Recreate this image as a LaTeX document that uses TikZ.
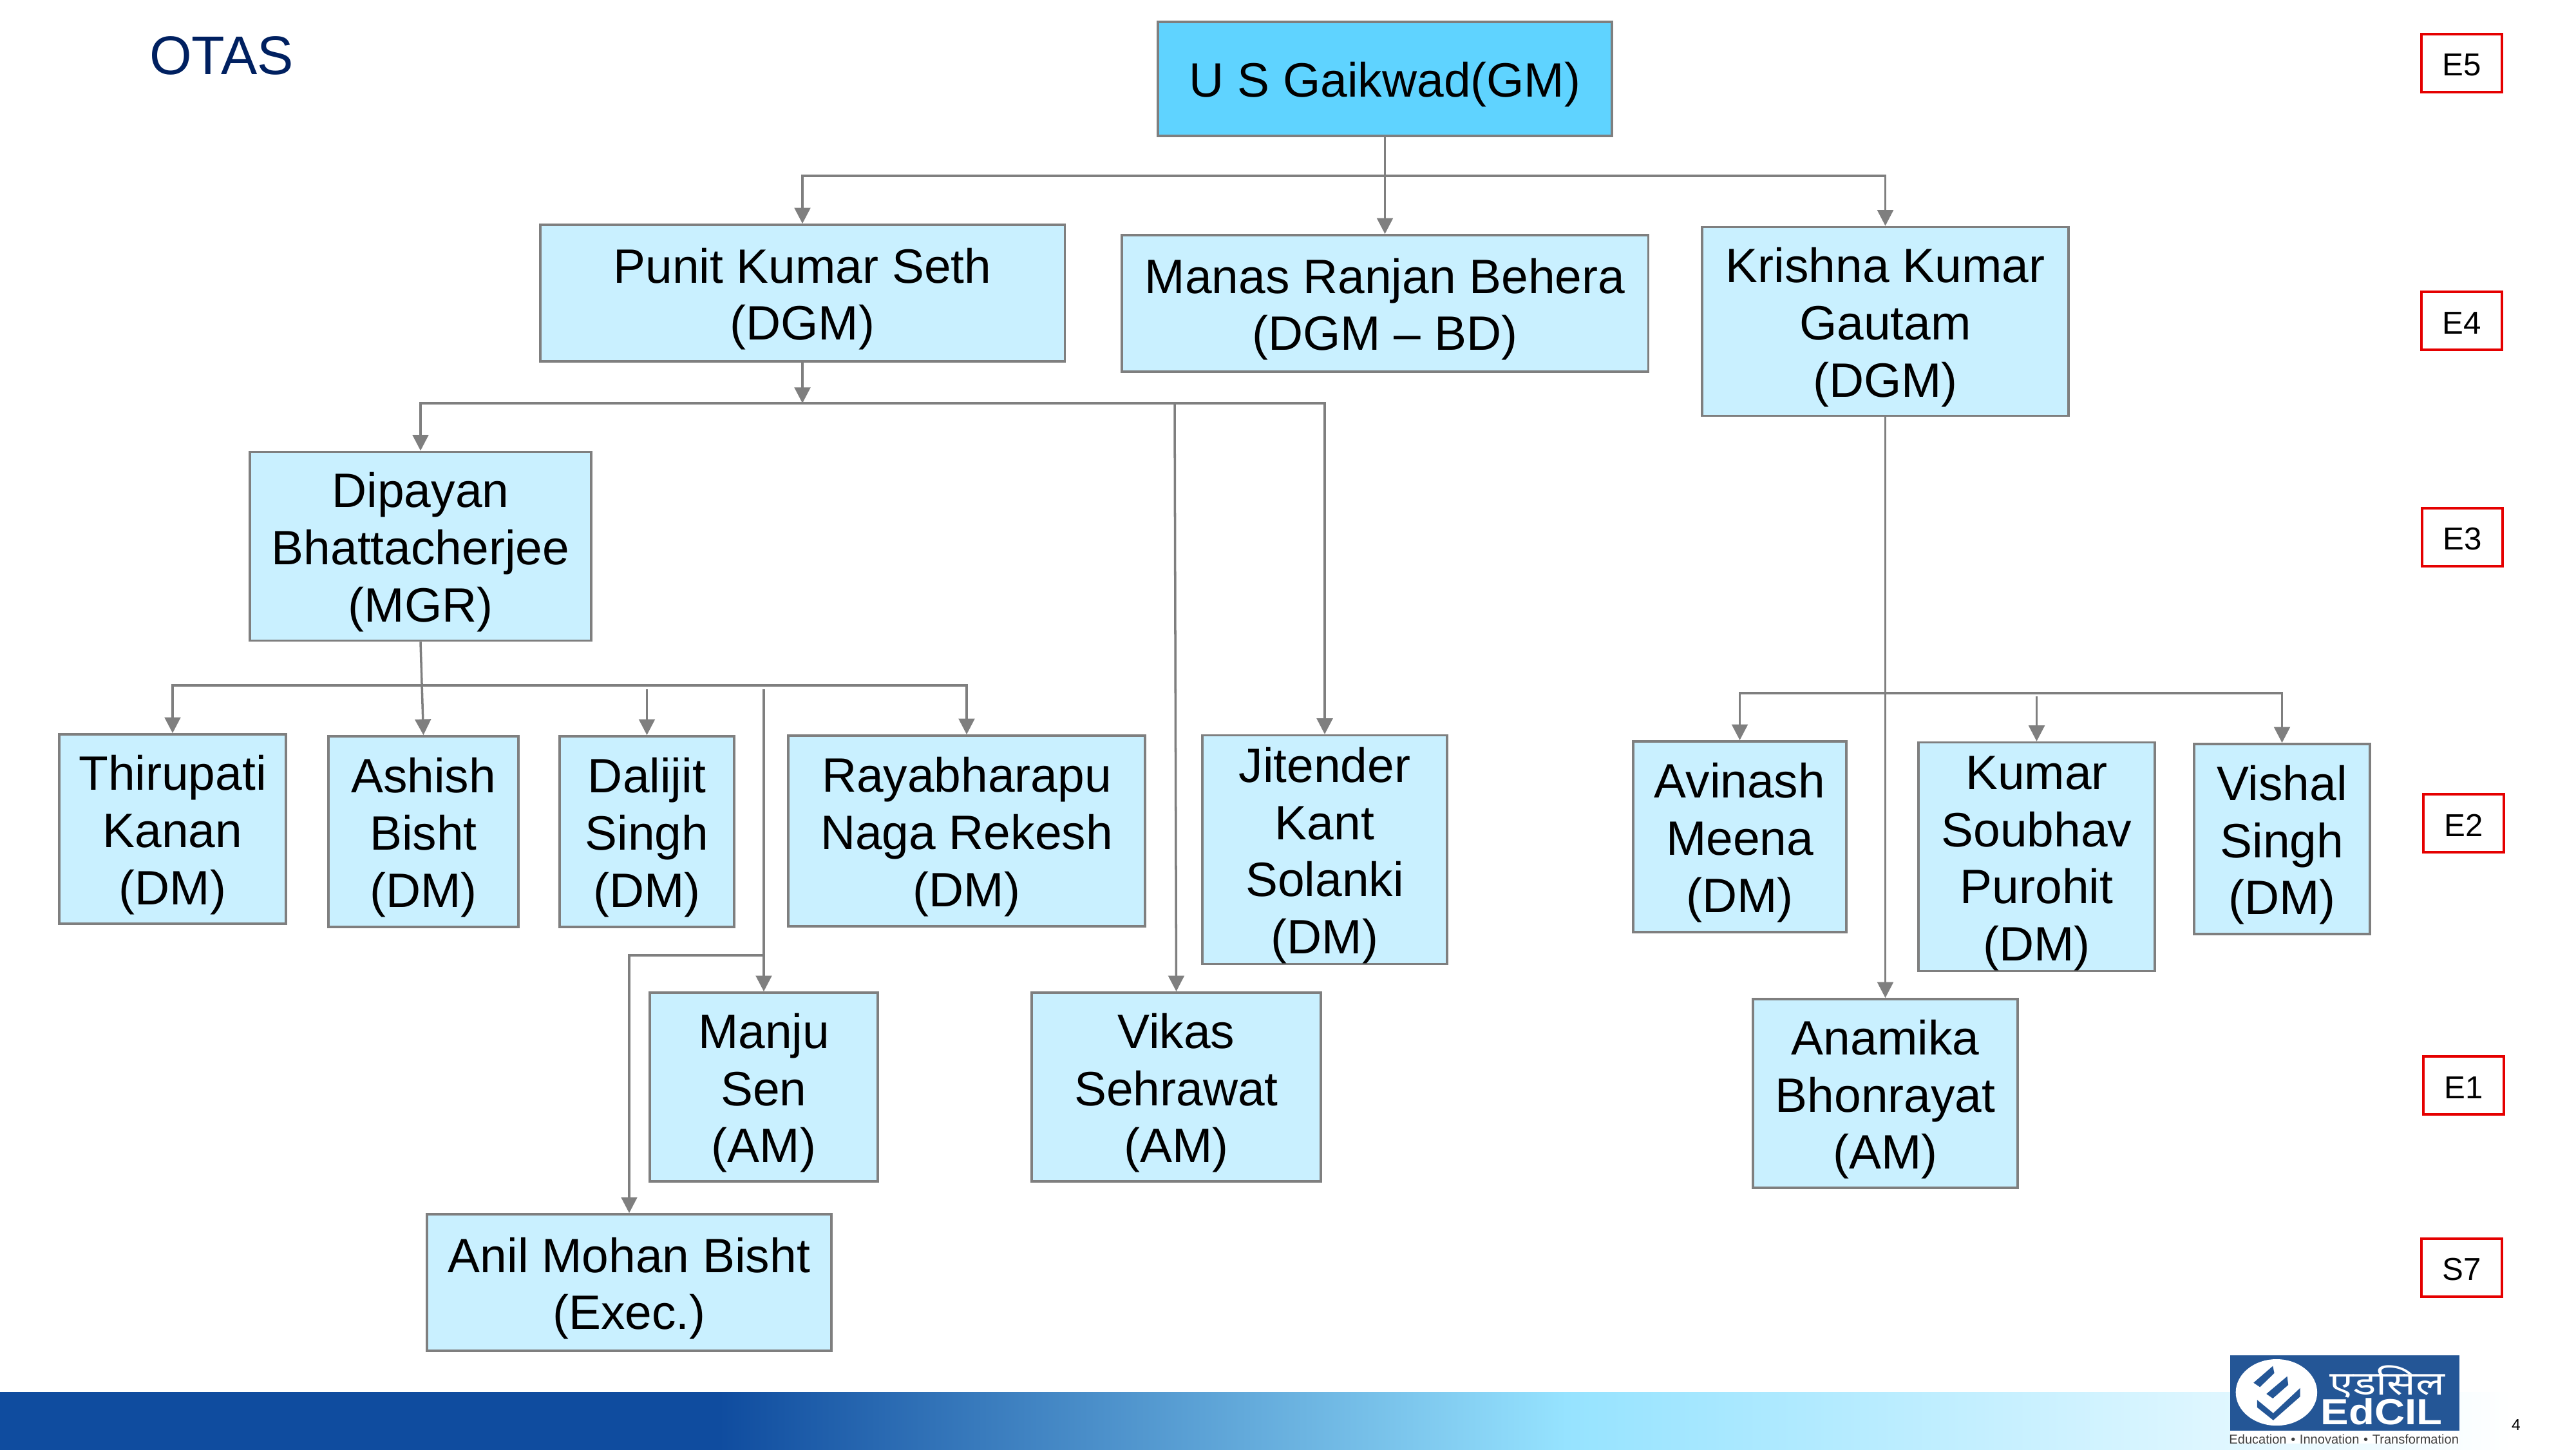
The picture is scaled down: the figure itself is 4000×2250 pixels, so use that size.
\documentclass[tikz,border=0pt]{standalone}
\usepackage{fontspec}
\usepackage{xcolor}
\setmainfont{Liberation Sans}
\newfontfamily\hindifont[Script=Devanagari]{Noto Sans}
\usetikzlibrary{calc,arrows.meta,positioning}
\definecolor{otasNavy}{RGB}{0,32,96}
\definecolor{boxBlue}{RGB}{201,240,255}
\definecolor{topBlue}{RGB}{95,211,255}
\definecolor{lineGray}{RGB}{127,127,127}
\definecolor{barDark}{RGB}{15,76,159}
\definecolor{barLight}{RGB}{150,227,255}
\definecolor{logoBlue}{RGB}{36,86,150}
\newcommand{\hs}{\rule{0pt}{20.6pt}}
\tikzset{
    personbox/.style={draw=lineGray, line width=1pt, fill=boxBlue, inner sep=0pt, align=center, font=\fontsize{21.3}{25.3}\selectfont},
    gradetag/.style={draw=red!90!black, line width=1pt, fill=white, inner sep=0pt, minimum width=1.25cm, minimum height=0.9cm, font=\fontsize{14}{16}\selectfont, execute at begin node=\rule{0pt}{11.4pt}},
    link/.style={draw=lineGray, line width=1pt, -{Triangle[length=7pt,width=7pt]}}
}
\begin{document}
\begin{tikzpicture}[x=0.01cm,y=-0.01cm]
\useasboundingbox (0,0) rectangle (4000,2250);

% bottom band
\foreach \xa/\xb/\ca/\cb in {0/1116/barDark/barDark,1116/2433/barDark/barLight,2433/3900/barLight/white}
{
    \shade[left color=\ca, right color=\cb, shading angle=90] (\xa,2161) rectangle (\xb,2250);
}

\node[text=otasNavy, font=\fontsize{24}{26}\selectfont] (title) at (344,86) {OTAS};

% people
\node[personbox, fill=topBlue, minimum width=7.05cm, minimum height=1.77cm] (gaikwad) at (2150.5,122.5) {\hs U S Gaikwad(GM)};
\node[personbox, minimum width=8.14cm, minimum height=2.12cm] (punit) at (1246,455) {\hs Punit Kumar Seth\\(DGM)};
\node[personbox, minimum width=8.17cm, minimum height=2.12cm] (manas) at (2150.5,471) {\hs Manas Ranjan Behera\\(DGM -- BD)};
\node[personbox, minimum width=5.69cm, minimum height=2.93cm] (krishna) at (2927.5,499) {\hs Krishna Kumar\\Gautam\\(DGM)};
\node[personbox, minimum width=5.30cm, minimum height=2.93cm] (dipayan) at (653,848) {\hs Dipayan\\Bhattacherjee\\(MGR)};
\node[personbox, minimum width=3.52cm, minimum height=2.94cm] (thirupati) at (268,1287) {\hs Thirupati\\Kanan\\(DM)};
\node[personbox, minimum width=2.95cm, minimum height=2.96cm] (ashish) at (657.5,1291) {\hs Ashish\\Bisht\\(DM)};
\node[personbox, minimum width=2.71cm, minimum height=2.96cm] (dalijit) at (1004.5,1291) {\hs Dalijit\\Singh\\(DM)};
\node[personbox, minimum width=5.54cm, minimum height=2.96cm] (rayabharapu) at (1501,1290) {\hs Rayabharapu\\Naga Rekesh\\(DM)};
\node[personbox, minimum width=3.80cm, minimum height=3.52cm] (jitender) at (2057,1319) {\hs Jitender\\Kant\\Solanki\\(DM)};
\node[personbox, minimum width=3.31cm, minimum height=2.96cm] (avinash) at (2701.5,1299) {\hs Avinash\\Meena\\(DM)};
\node[personbox, minimum width=3.67cm, minimum height=3.54cm] (kumar) at (3162.5,1330) {\hs Kumar\\Soubhav\\Purohit\\(DM)};
\node[personbox, minimum width=2.73cm, minimum height=2.95cm] (vishal) at (3543.5,1302.5) {\hs Vishal\\Singh\\(DM)};
\node[personbox, minimum width=3.54cm, minimum height=2.93cm] (manju) at (1186,1687.5) {\hs Manju\\Sen\\(AM)};
\node[personbox, minimum width=4.49cm, minimum height=2.93cm] (vikas) at (1826.5,1687.5) {\hs Vikas\\Sehrawat\\(AM)};
\node[personbox, minimum width=4.11cm, minimum height=2.93cm] (anamika) at (2927.5,1697.5) {\hs Anamika\\Bhonrayat\\(AM)};
\node[personbox, minimum width=6.28cm, minimum height=2.12cm] (anil) at (977,1991) {\hs Anil Mohan Bisht\\(Exec.)};

% grades
\foreach \grade/\x/\y in {E5/3822.5/98,E4/3822.5/498,E3/3823.5/834,E2/3825.5/1278,E1/3825.5/1685,S7/3822.5/1968}
{
    \node[gradetag] (tag\grade) at (\x,\y) {\grade};
}

% bus points
\coordinate (topbus) at (2150.5,273);
\coordinate (midbus) at (1246,626);
\coordinate (vikasfrom) at (1824,626);
\coordinate (dipbus) at (653.6,1064);
\coordinate (dalijitfrom) at (1004.5,1070);
\coordinate (manjufrom) at (1186,1070);
\coordinate (anilfrom) at (1186,1483);
\coordinate (krisbus) at (2927.5,1076);
\coordinate (kumarfrom) at (3162.5,1081);

% connectors
\draw[link] (gaikwad.south) -- (manas.north);
\draw[link] (topbus) -| (punit.north);
\draw[link] (topbus) -| (krishna.north);
\draw[link] (punit.south) -- (midbus);
\draw[link] (midbus) -| (dipayan.north);
\draw[link] (midbus) -| (jitender.north);
\draw[link] (vikasfrom) -- (vikas.north);
\draw[link] (dipayan.south) -- (ashish.north);
\draw[link] (dipbus) -| (thirupati.north);
\draw[link] (dipbus) -| (rayabharapu.north);
\draw[link] (dalijitfrom) -- (dalijit.north);
\draw[link] (manjufrom) -- (manju.north);
\draw[link] (anilfrom) -| (anil.north);
\draw[link] (krishna.south) -- (anamika.north);
\draw[link] (krisbus) -| (avinash.north);
\draw[link] (krisbus) -| (vishal.north);
\draw[link] (kumarfrom) -- (kumar.north);

% logo
\fill[white] (3463,2104) rectangle (3819,2241);
\fill[logoBlue] (3463,2104) rectangle (3819,2221);
\begin{scope}[shift={(3440,2090)},x=0.003333cm,y=-0.003333cm]
    \fill[white] (285,215) ellipse [x radius=190, y radius=155];
    \fill[logoBlue] (178,170) -- (268,92) -- (275,125) -- (208,190) -- cycle;
    \fill[logoBlue] (238,222) -- (335,140) -- (340,180) -- (268,243) -- cycle;
    \fill[logoBlue] (195,250) -- (270,312) -- (395,195) -- (395,235) -- (270,345) -- (195,285) -- cycle;
    \node[text=white, font=\hindifont\fontsize{14.5}{15}\selectfont, inner sep=0pt] (logohindi) at (802,165) {\scalebox{1.3}[1]{एडसिल}};
    \node[text=white, font=\bfseries\fontsize{16}{17}\selectfont, inner sep=0pt] (logoname) at (775,305) {\scalebox{1.16}[1]{EdCIL}};
    \node[text=black!75, font=\fontsize{5.7}{6}\selectfont, inner sep=0pt] (logoline) at (600,433) {Education\,\,•\,\,Innovation\,\,•\,\,Transformation};
\end{scope}

\node[font=\fontsize{7}{8}\selectfont, inner sep=0pt] (pagenum) at (3907,2212) {4};
\end{tikzpicture}
\end{document}
